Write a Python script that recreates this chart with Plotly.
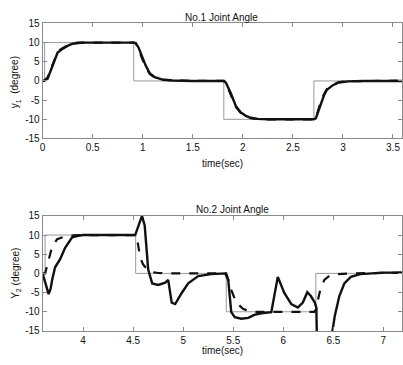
import plotly.graph_objects as go

# ---------------- data ----------------
# Joint 1 (top panel)
ref1_t = [0.0, 0.02, 0.02, 0.91, 0.91, 1.81, 1.81, 2.71, 2.71, 3.59]
ref1_v = [0, 0, 10, 10, 0, 0, -10, -10, 0, 0]

sol1_t = [0.0, 0.02, 0.05, 0.08, 0.12, 0.15, 0.19, 0.22, 0.26, 0.30, 0.35, 0.40, 0.91,
          0.93, 0.96, 0.99, 1.03, 1.07, 1.12, 1.19, 1.30, 1.50, 1.81, 1.83, 1.85, 1.88,
          1.93, 1.98, 2.03, 2.08, 2.14, 2.25, 2.50, 2.71, 2.73, 2.75, 2.78, 2.81, 2.84,
          2.90, 2.96, 3.05, 3.20, 3.59]
sol1_v = [0, 0.1, 0.6, 2.7, 5.5, 7.4, 8.2, 8.7, 9.3, 9.7, 9.9, 10, 10,
          9.9, 8.6, 6.5, 4.0, 2.0, 1.0, 0.4, 0.1, 0, 0, -0.4, -1.5, -3.2,
          -6.5, -8.2, -9.1, -9.6, -9.9, -10, -10, -10, -9.7, -8.2, -5.7, -3.8, -2.3,
          -1.1, -0.4, -0.1, 0, 0]

das1_t = [0.0, 0.02, 0.05, 0.08, 0.12, 0.15, 0.19, 0.22, 0.26, 0.30, 0.35, 0.40, 0.91,
          0.93, 0.96, 0.99, 1.03, 1.07, 1.12, 1.19, 1.30, 1.50, 1.81, 1.83, 1.85, 1.88,
          1.93, 1.98, 2.03, 2.08, 2.14, 2.25, 2.50, 2.71, 2.73, 2.75, 2.78, 2.81, 2.84,
          2.90, 2.96, 3.05, 3.20, 3.59]
das1_v = [0, 0.2, 0.9, 3.0, 5.8, 7.6, 8.4, 8.9, 9.4, 9.8, 10, 10, 10,
          9.8, 8.3, 6.1, 3.7, 1.8, 0.9, 0.3, 0.1, 0, 0, -0.5, -1.8, -3.6,
          -6.8, -8.4, -9.2, -9.7, -9.9, -10, -10, -10, -9.6, -7.9, -5.3, -3.5, -2.1,
          -1.0, -0.3, -0.1, 0, 0.1]

# Joint 2 (bottom panel)
ref2_t = [3.595, 3.62, 3.62, 4.525, 4.525, 5.43, 5.43, 6.325, 6.325, 7.186]
ref2_v = [0, 0, 10, 10, 0, 0, -10, -10, 0, 0]

sol2_t = [3.595, 3.62, 3.655, 3.675, 3.69, 3.72, 3.77, 3.82, 3.89, 3.95, 4.0, 4.52,
          4.588, 4.615, 4.65, 4.69, 4.75, 4.82, 4.85, 4.885, 4.92, 4.985, 5.05, 5.15,
          5.28, 5.42, 5.45, 5.465, 5.48, 5.515, 5.58, 5.65, 5.71, 5.78, 5.88, 5.945,
          6.01, 6.08, 6.145, 6.195, 6.24, 6.275, 6.315, 6.33, 6.345, 6.48, 6.49, 6.515,
          6.56, 6.61, 6.675, 6.77, 6.9, 7.0, 7.186]
sol2_v = [0, -2.0, -5.4, -4.0, -1.7, 1.6, 3.7, 6.7, 9.4, 9.8, 10, 10,
          15, 12.5, 1.0, -2.6, -3.0, -2.4, -1.7, -7.6, -8.0, -5.1, -2.6, -0.7,
          -0.2, 0, -1.7, -5.9, -10.1, -11.4, -11.8, -11.6, -10.8, -10.4, -10.1, -0.9,
          -5.1, -8.0, -8.9, -7.6, -4.9, -5.9, -7.6, -8.9, -30, -30, -15.2, -11,
          -5.9, -2.6, -0.9, -0.2, 0, 0.2, 0.2]

das2_t = [3.595, 3.62, 3.64, 3.66, 3.69, 3.74, 3.80, 3.86, 3.95, 4.1, 4.525, 4.54,
          4.55, 4.57, 4.60, 4.65, 4.70, 4.75, 4.85, 5.43, 5.44, 5.45, 5.48, 5.53,
          5.60, 5.66, 5.71, 6.31, 6.33, 6.34, 6.37, 6.41, 6.46, 6.54, 6.67, 7.186]
das2_v = [0, 0, 2.0, 4.1, 7.0, 8.9, 9.5, 9.8, 10, 10, 10, 9.0,
          7.5, 4.1, 2.3, 0.8, 0.3, 0.1, 0, 0, -0.8, -1.8, -4.3, -7.6,
          -9.3, -9.8, -10, -10, -9.3, -7.6, -4.2, -1.7, -0.6, -0.2, 0, 0.2]

y_ticks = [-15, -10, -5, 0, 5, 10, 15]
y_ticktext = ["-15", "-10", "-5", "0", "5", "10", "15"]
x1_ticks = [0, 0.5, 1, 1.5, 2, 2.5, 3, 3.5]
x1_ticktext = ["0", "0.5", "1", "1.5", "2", "2.5", "3", "3.5"]
x2_ticks = [4, 4.5, 5, 5.5, 6, 6.5, 7]
x2_ticktext = ["4", "4.5", "5", "5.5", "6", "6.5", "7"]

# ---------------- figure ----------------
W, H = 403, 365
FONT = "Liberation Sans, Arial, sans-serif"
TXT = "#111111"
fig = go.Figure()

ref_style = dict(color="#9a9a9a", width=1)
sol_style = dict(color="#111111", width=2.4)
das_style = dict(color="#111111", width=2.2, dash="dash")

fig.add_trace(go.Scatter(x=ref1_t, y=ref1_v, mode="lines", line=ref_style, xaxis="x", yaxis="y"))
fig.add_trace(go.Scatter(x=das1_t, y=das1_v, mode="lines", line=das_style, xaxis="x", yaxis="y"))
fig.add_trace(go.Scatter(x=sol1_t, y=sol1_v, mode="lines", line=sol_style, xaxis="x", yaxis="y"))

fig.add_trace(go.Scatter(x=ref2_t, y=ref2_v, mode="lines", line=ref_style, xaxis="x2", yaxis="y2"))
fig.add_trace(go.Scatter(x=das2_t, y=das2_v, mode="lines", line=das_style, xaxis="x2", yaxis="y2"))
fig.add_trace(go.Scatter(x=sol2_t, y=sol2_v, mode="lines", line=sol_style, xaxis="x2", yaxis="y2"))

x_left = 40 / W
top_dom = [1 - 137 / H, 1 - 18 / H]
bot_dom = [1 - 336 / H, 1 - 217 / H]

axis_common = dict(showgrid=False, zeroline=False, showline=True, linecolor="#8a8a8a",
                   linewidth=1, mirror="ticks", ticks="inside", ticklen=4,
                   tickcolor="#8a8a8a", tickfont=dict(family=FONT, size=10, color=TXT))

fig.update_layout(
    width=W, height=H,
    margin=dict(l=0, r=0, t=0, b=0),
    paper_bgcolor="white", plot_bgcolor="white",
    showlegend=False,
    font=dict(family=FONT, color=TXT),
    xaxis=dict(domain=[x_left, 1], range=[0, 3.59], anchor="y",
               tickvals=x1_ticks, ticktext=x1_ticktext, **axis_common),
    yaxis=dict(domain=top_dom, range=[-15, 15], anchor="x",
               tickvals=y_ticks, ticktext=y_ticktext, **axis_common),
    xaxis2=dict(domain=[x_left, 1], range=[3.595, 7.186], anchor="y2",
                tickvals=x2_ticks, ticktext=x2_ticktext, **axis_common),
    yaxis2=dict(domain=bot_dom, range=[-15, 15], anchor="x2",
                tickvals=y_ticks, ticktext=y_ticktext, **axis_common),
)

def ann(text, x_px, y_px, size=10, angle=0):
    fig.add_annotation(text=text, x=x_px / W, y=1 - y_px / H, xref="paper", yref="paper",
                       xanchor="center", yanchor="middle", showarrow=False,
                       textangle=angle, font=dict(family=FONT, size=size, color=TXT))

ann("No.1 Joint Angle", 221, 12)
ann("No.2 Joint Angle", 232, 210)
ann("time(sec)", 222, 163)
ann("time(sec)", 222, 356)
ann("y<sub>1</sub>  (degree)", 13, 79, angle=-90)
ann("Y<sub>2</sub> (degree)", 13, 276, angle=-90)

fig.write_html(
    "out.html",
    config={"displayModeBar": False},
    post_script="document.body.style.margin='0';document.body.style.overflow='hidden';",
)
